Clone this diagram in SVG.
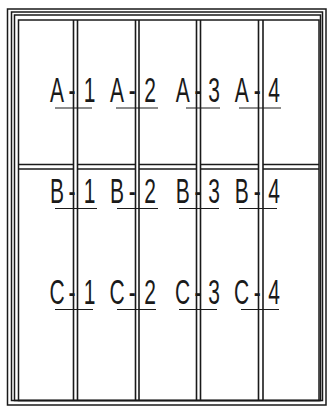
<svg xmlns="http://www.w3.org/2000/svg" width="329" height="407" viewBox="0 0 329 407">
<style>
.f{fill:none;stroke:#1a1a1a;stroke-width:1.5}
.d{stroke:#1a1a1a;stroke-width:1.6;fill:none}
.u{stroke:#1a1a1a;stroke-width:1.2;fill:none}
.t{font-family:"Liberation Sans",Arial,sans-serif;font-size:35px;fill:#1a1a1a;text-anchor:middle}
</style>
<rect width="329" height="407" fill="#fff"/>
<g id="frame">
<rect class="f" x="7.5" y="9" width="318.5" height="396"/>
<rect class="f" x="11.5" y="12" width="311" height="388.5"/>
<rect class="f" x="14.5" y="15" width="306" height="385.5"/>
<rect class="f" x="18.5" y="20" width="300.5" height="380.5"/>
</g>
<g id="dividers">
<line class="d" x1="73.5" y1="20" x2="73.5" y2="400.5"/>
<line class="d" x1="77.5" y1="20" x2="77.5" y2="400.5"/>
<line class="d" x1="135.5" y1="20" x2="135.5" y2="400.5"/>
<line class="d" x1="139" y1="20" x2="139" y2="400.5"/>
<line class="d" x1="196.5" y1="20" x2="196.5" y2="400.5"/>
<line class="d" x1="200.5" y1="20" x2="200.5" y2="400.5"/>
<line class="d" x1="258.5" y1="20" x2="258.5" y2="400.5"/>
<line class="d" x1="263" y1="20" x2="263" y2="400.5"/>
<path class="d" d="M18.5 164.5H73.5M77.5 164.5H135.5M139 164.5H196.5M200.5 164.5H258.5M263 164.5H319M18.5 169H73.5M77.5 169H135.5M139 169H196.5M200.5 169H258.5M263 169H319"/>
</g>
<g id="label-A1"><text class="t" transform="scale(0.6,1)" x="95 120 149.17" y="102">A-1</text><line class="u" x1="55" y1="108" x2="92" y2="108"/></g>
<g id="label-A2"><text class="t" transform="scale(0.6,1)" x="195 220.5 250" y="102">A-2</text><line class="u" x1="116" y1="108" x2="158" y2="108"/></g>
<g id="label-A3"><text class="t" transform="scale(0.6,1)" x="304.5 330 356.67" y="102">A-3</text><line class="u" x1="186" y1="108" x2="220" y2="108"/></g>
<g id="label-A4"><text class="t" transform="scale(0.6,1)" x="402.83 428.67 456.67" y="102">A-4</text><line class="u" x1="239" y1="108" x2="281" y2="108"/></g>
<g id="label-B1"><text class="t" transform="scale(0.6,1)" x="95 120 149.17" y="203">B-1</text><line class="u" x1="55" y1="208.5" x2="97" y2="208.5"/></g>
<g id="label-B2"><text class="t" transform="scale(0.6,1)" x="195 220.5 250" y="203">B-2</text><line class="u" x1="117" y1="208.5" x2="158" y2="208.5"/></g>
<g id="label-B3"><text class="t" transform="scale(0.6,1)" x="304.5 330 356.67" y="203">B-3</text><line class="u" x1="179" y1="208.5" x2="219" y2="208.5"/></g>
<g id="label-B4"><text class="t" transform="scale(0.6,1)" x="402.83 428.67 456.67" y="203">B-4</text><line class="u" x1="239" y1="208.5" x2="277" y2="208.5"/></g>
<g id="label-C1"><text class="t" transform="scale(0.6,1)" x="95 120 149.17" y="304">C-1</text><line class="u" x1="55" y1="309.5" x2="93" y2="309.5"/></g>
<g id="label-C2"><text class="t" transform="scale(0.6,1)" x="195 220.5 250" y="304">C-2</text><line class="u" x1="117" y1="309.5" x2="156" y2="309.5"/></g>
<g id="label-C3"><text class="t" transform="scale(0.6,1)" x="304.5 330 356.67" y="304">C-3</text><line class="u" x1="179" y1="309.5" x2="217" y2="309.5"/></g>
<g id="label-C4"><text class="t" transform="scale(0.6,1)" x="402.83 428.67 456.67" y="304">C-4</text><line class="u" x1="241" y1="309.5" x2="279" y2="309.5"/></g>
</svg>
